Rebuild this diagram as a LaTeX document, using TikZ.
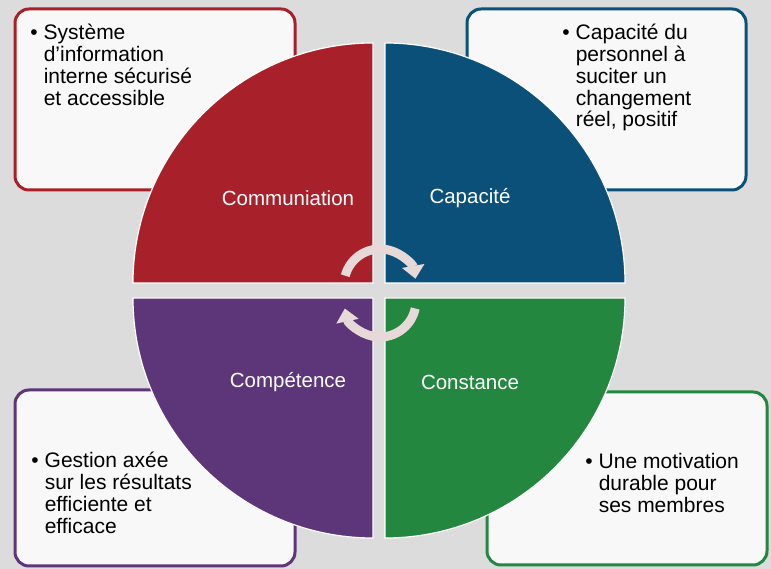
\documentclass[tikz,border=0pt]{standalone}
\usepackage{fontspec}
\setmainfont{Liberation Sans}
\usepackage{tikz}
\usetikzlibrary{positioning,arrows.meta}
\definecolor{cred}{HTML}{A8202A}
\definecolor{cblue}{HTML}{0B5079}
\definecolor{cpurple}{HTML}{5D3679}
\definecolor{cgreen}{HTML}{23873F}
\definecolor{bggray}{HTML}{DCDCDC}
\definecolor{boxfill}{HTML}{F8F8F8}
\definecolor{arrowpink}{HTML}{E8D9D9}

\begin{document}
\begin{tikzpicture}[x=1pt,y=1pt,thick]
\tikzstyle{card} = [draw,fill=boxfill,line width=3pt,rounded corners=14pt,shape=rectangle,inner sep=0pt]
\tikzstyle{quad} = [draw=white,line width=1.2pt]
\tikzstyle{lbl} = [text=white,font=\fontsize{20.5}{20.5}\selectfont,inner sep=0pt]
\tikzstyle{txt} = [anchor=base west,inner sep=0pt,font=\fontsize{21}{21.3}\selectfont]
\tikzstyle{cyc} = [arrowpink,line width=9pt,-{Triangle[width=22pt,length=13pt]}]
\fill[bggray] (0,0) rectangle (771,569);
\useasboundingbox (0,0) rectangle (771,569);
% boxes behind the disc
\node[card,draw=cred,minimum width=280pt,minimum height=181pt] (boxA) at (155,469.5) {};
\node[card,draw=cblue,minimum width=279pt,minimum height=181pt] (boxB) at (606.5,469.5) {};
\node[card,draw=cpurple,minimum width=280pt,minimum height=176pt] (boxC) at (155,91) {};
\node[card,draw=cgreen,minimum width=280pt,minimum height=173pt] (boxD) at (627,90.5) {};
% four quarters
\filldraw[quad,fill=cred] (373,286) -- ++(-240,0) arc[start angle=180,end angle=90,radius=240] -- cycle;
\filldraw[quad,fill=cblue] (385,286) -- ++(0,240) arc[start angle=90,end angle=0,radius=240] -- cycle;
\filldraw[quad,fill=cpurple] (373,271) -- ++(-240,0) arc[start angle=180,end angle=270,radius=240] -- cycle;
\filldraw[quad,fill=cgreen] (385,271) -- ++(240,0) arc[start angle=0,end angle=-90,radius=240] -- cycle;
\node[lbl] (comm) at (288,371) {Communiation};
\node[lbl] (capa) at (470,371) {Capacité};
\node[lbl] (comp) at (288,187) {Compétence};
\node[lbl] (cons) at (470,187) {Constance};
% cycle arrows
\draw[cyc] (380,284) ++(165:36) arc[start angle=165,end angle=10,radius=36];
\draw[cyc] (380,268) ++(-12:36) arc[start angle=-12,end angle=-168,radius=36];
% texts in the boxes
\node[txt] (textA) at (30,529) {\begin{tabular}[t]{@{}l@{\hspace{6pt}}l@{}}•&Système\\&d’information\\&interne sécurisé\\&et accessible\end{tabular}};
\node[txt] (textB) at (562,529) {\begin{tabular}[t]{@{}l@{\hspace{6pt}}l@{}}•&Capacité du\\&personnel à\\&suciter un\\&changement\\&réel, positif\end{tabular}};
\node[txt] (textC) at (31,101) {\begin{tabular}[t]{@{}l@{\hspace{6pt}}l@{}}•&Gestion axée\\&sur les résultats\\&efficiente et\\&efficace\end{tabular}};
\node[txt] (textD) at (585,100) {\begin{tabular}[t]{@{}l@{\hspace{6pt}}l@{}}•&Une motivation\\&durable pour\\&ses membres\end{tabular}};
\end{tikzpicture}
\end{document}
